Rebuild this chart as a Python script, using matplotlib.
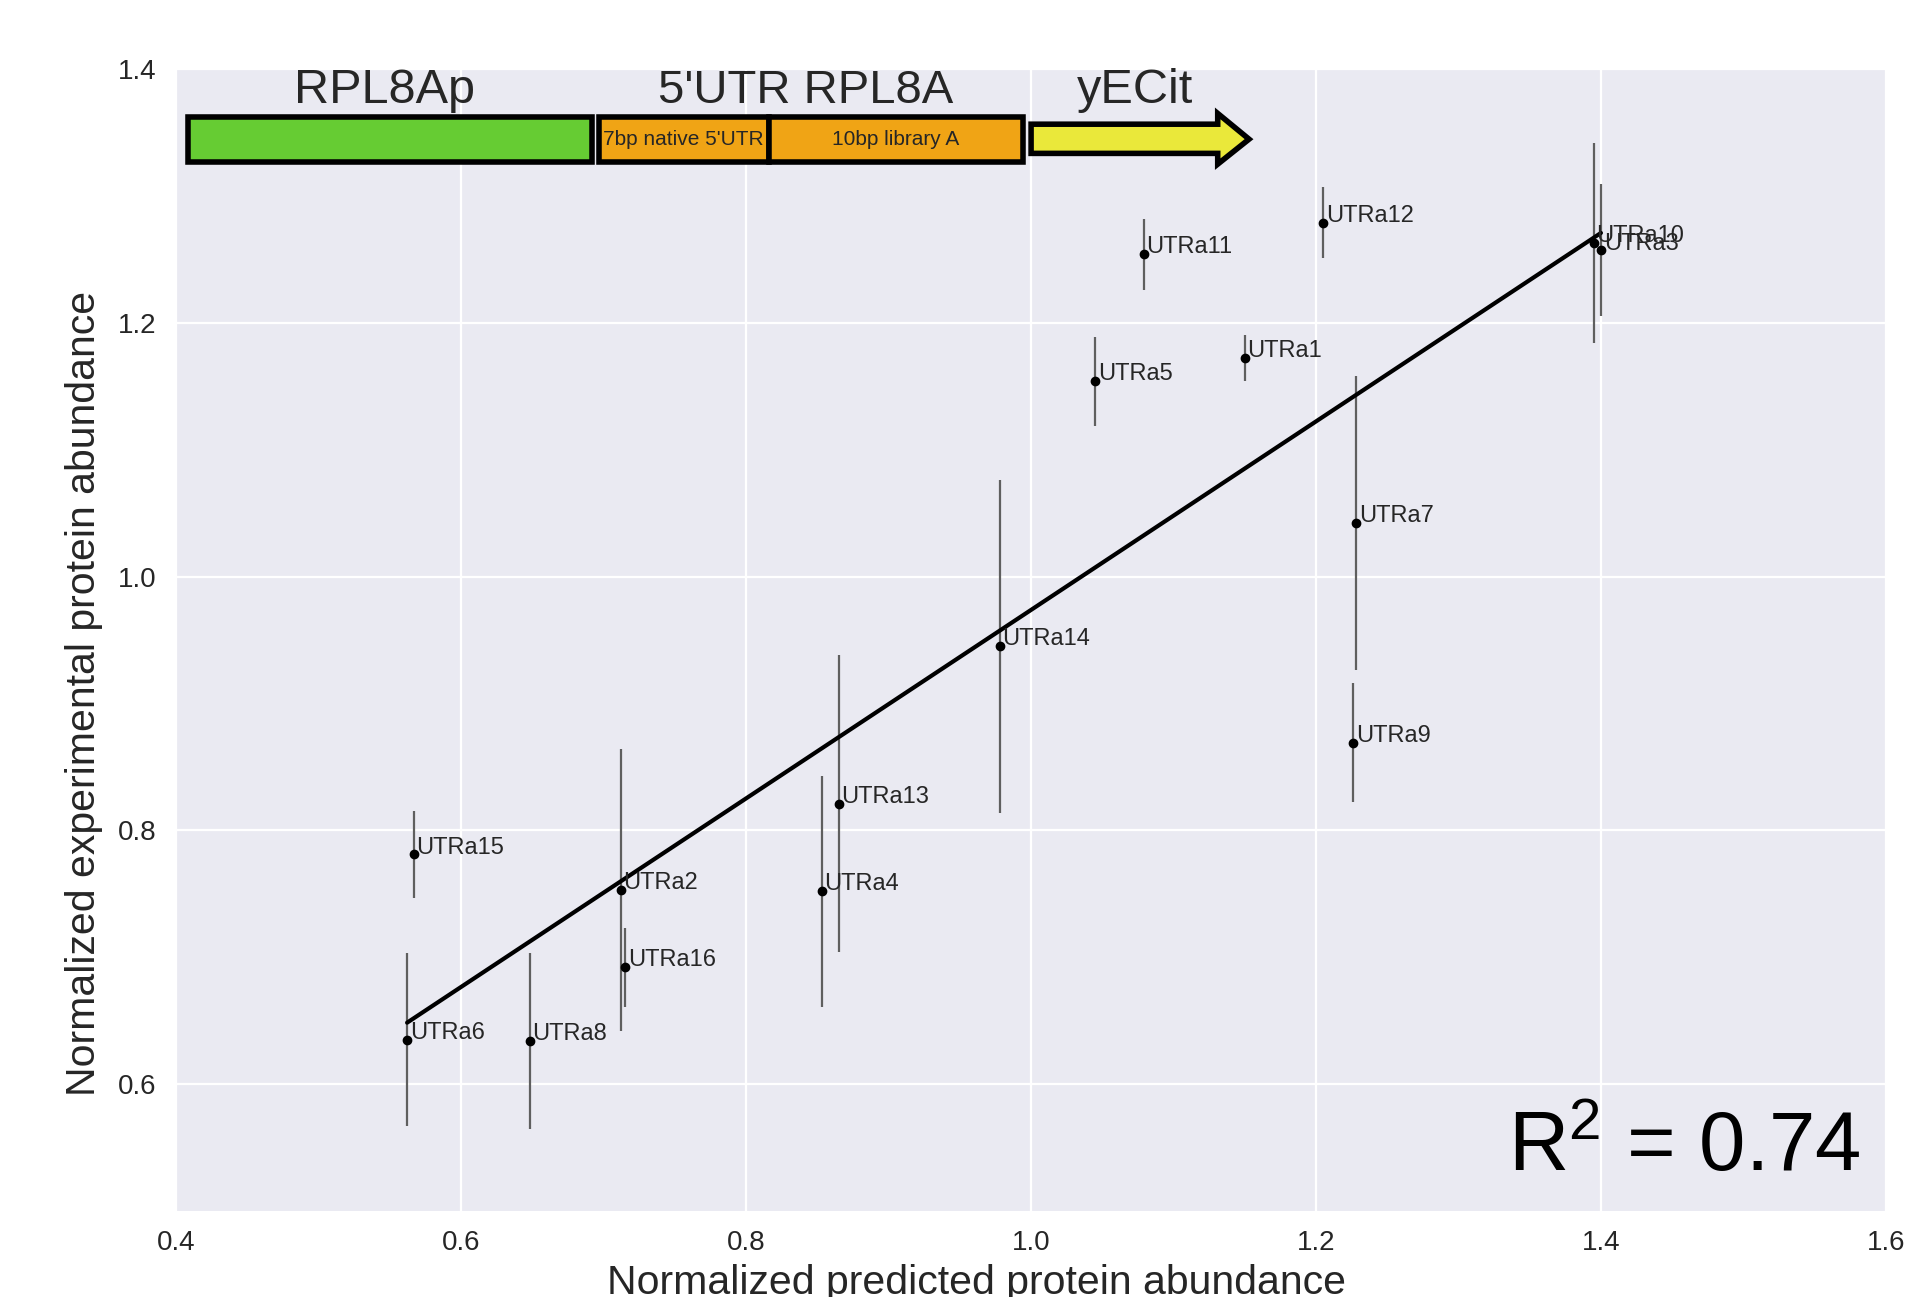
import numpy as np
import matplotlib
matplotlib.use("Agg")
import matplotlib.pyplot as plt
import seaborn as sns
from matplotlib import font_manager
from matplotlib.patches import Rectangle, Polygon

# ---------------- data ----------------
names = ["UTRa1", "UTRa2", "UTRa3", "UTRa4", "UTRa5", "UTRa6", "UTRa7", "UTRa8",
         "UTRa9", "UTRa10", "UTRa11", "UTRa12", "UTRa13", "UTRa14", "UTRa15", "UTRa16"]
predicted = [1.150, 0.712, 1.400, 0.853, 1.045, 0.562, 1.228, 0.648,
             1.226, 1.395, 1.079, 1.205, 0.865, 0.978, 0.5665, 0.715]
experimental = [1.172, 0.753, 1.257, 0.752, 1.154, 0.635, 1.042, 0.634,
                0.869, 1.263, 1.254, 1.279, 0.821, 0.945, 0.781, 0.692]
err = [0.018, 0.111, 0.052, 0.091, 0.035, 0.068, 0.116, 0.069,
       0.047, 0.079, 0.028, 0.028, 0.117, 0.131, 0.034, 0.031]
r2_text = "R$^2$ = 0.74"
xticks = [0.4, 0.6, 0.8, 1.0, 1.2, 1.4, 1.6]
yticks = [0.6, 0.8, 1.0, 1.2, 1.4]

# ---------------- style ----------------
sns.set_style("darkgrid")
names_avail = {f.name for f in font_manager.fontManager.ttflist}
narrow = "Liberation Sans Narrow" if "Liberation Sans Narrow" in names_avail else "Liberation Sans"
plt.rcParams['font.family'] = ['Liberation Sans', 'DejaVu Sans']
plt.rcParams['mathtext.fontset'] = 'custom'
plt.rcParams['mathtext.rm'] = 'Liberation Sans'
plt.rcParams['mathtext.it'] = 'Liberation Sans'

fig = plt.figure(figsize=(19.08, 12.97), dpi=100)
ax = fig.add_axes([0.0924, 0.0663, 0.896, 0.8805])
ax.set_facecolor("#EAEAF2")
for s in ax.spines.values():
    s.set_visible(False)
ax.grid(True, color="white", linewidth=1.6)
ax.set_axisbelow(True)

x = np.array(predicted)
y = np.array(experimental)
ax.errorbar(x, y, yerr=err, fmt='o', color='black', ecolor='#5f5f5f',
            elinewidth=1.6, markersize=6, capsize=0, zorder=3)

slope, intercept = np.polyfit(x, y, 1)
xs = np.array([x.min(), x.max()])
ax.plot(xs, slope * xs + intercept, color='black', linewidth=3, zorder=4)

for n, xi, yi in zip(names, x, y):
    ax.annotate(n, (xi, yi), xytext=(2, 5), textcoords='offset points',
                ha='left', va='center', fontsize=17, color='#262626', zorder=5)

ax.set_xlim(0.4, 1.6)
ax.set_ylim(0.5, 1.4)
ax.set_xticks(xticks)
ax.set_yticks(yticks)
ax.set_xticklabels([f"{t:.1f}" for t in xticks])
ax.set_yticklabels([f"{t:.1f}" for t in yticks])
ax.tick_params(axis='both', labelsize=20, colors='#262626', length=0, pad=14)
ax.set_xlabel("Normalized predicted protein abundance", fontsize=29.5, color='#262626')
ax.xaxis.set_label_coords(0.468, -0.046)
ax.set_ylabel("Normalized experimental protein abundance", fontsize=29.5, color='#262626',
              family=narrow)
ax.yaxis.set_label_coords(-0.043, 0.453)

ax.text(0.985, 0.02, r2_text, transform=ax.transAxes, ha='right', va='bottom',
        fontsize=60, color='black')

# ---------------- construct diagram ----------------
box_y0, box_y1 = 1.3265, 1.3625
edge_lw = 4
ax.add_patch(Rectangle((0.4085, box_y0), 0.692 - 0.4085, box_y1 - box_y0,
                       facecolor='#66CC33', edgecolor='black', linewidth=edge_lw, zorder=6))
ax.add_patch(Rectangle((0.6965, box_y0), 0.816 - 0.6965, box_y1 - box_y0,
                       facecolor='#F0A415', edgecolor='black', linewidth=edge_lw, zorder=6))
ax.add_patch(Rectangle((0.816, box_y0), 0.9945 - 0.816, box_y1 - box_y0,
                       facecolor='#F0A415', edgecolor='black', linewidth=edge_lw, zorder=6))
arrow_pts = [(1.0, 1.3335), (1.131, 1.3335), (1.131, 1.325), (1.153, 1.3447),
             (1.131, 1.365), (1.131, 1.3565), (1.0, 1.3565)]
ax.add_patch(Polygon(arrow_pts, closed=True, facecolor='#EAE83A', edgecolor='black',
                     linewidth=edge_lw, joinstyle='miter', zorder=6))

ax.text(0.546, 1.383, "RPL8Ap", ha='center', va='center', fontsize=35, family=narrow, zorder=7)
ax.text(0.842, 1.383, "5'UTR RPL8A", ha='center', va='center', fontsize=34, family=narrow, zorder=7)
ax.text(1.073, 1.383, "yECit", ha='center', va='center', fontsize=35, family=narrow, zorder=7)
ax.text(0.756, 1.3445, "7bp native 5'UTR", ha='center', va='center', fontsize=15, family=narrow, zorder=7)
ax.text(0.905, 1.3445, "10bp library A", ha='center', va='center', fontsize=15, family=narrow, zorder=7)

fig.savefig("out.png", dpi=100)
